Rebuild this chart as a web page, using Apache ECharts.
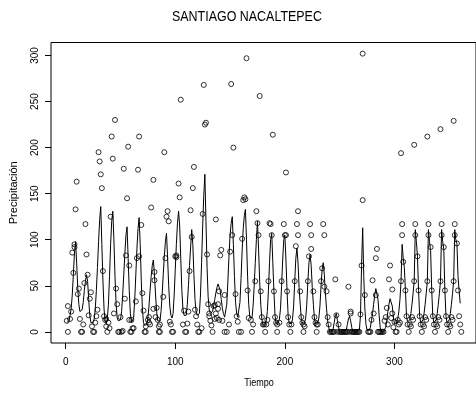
<!DOCTYPE html>
<html>
<head>
<meta charset="utf-8">
<script src="https://cdn.jsdelivr.net/npm/echarts@6/dist/echarts.min.js"></script>
<style>
html,body{margin:0;padding:0;background:#fff;}
#chart{width:476px;height:394px;}
</style>
</head>
<body>
<div id="chart"></div>
<script>
const titleText = 'SANTIAGO NACALTEPEC';
const xLabel = 'Tiempo';
const yLabel = 'Precipitación';
const xTicks = [0, 100, 200, 300];
const yTicks = [0, 50, 100, 150, 200, 250, 300];

// fitted monthly series (t = 1..360)
const fittedValues = [
  10, 8, 12, 18, 25, 40, 62, 85, 98, 75, 48, 30,
  22, 20, 24, 32, 45, 55, 62, 55, 35, 18, 10, 9,
  10, 14, 25, 45, 70, 98, 122, 136, 95, 55, 25, 12,
  9, 14, 30, 60, 95, 120, 131, 100, 60, 30, 15, 12,
  11, 13, 22, 40, 62, 85, 105, 114, 80, 45, 20, 10,
  8, 15, 35, 62, 90, 112, 124, 95, 55, 25, 10, 7,
  6, 8, 15, 28, 45, 60, 72, 78, 62, 40, 22, 12,
  10, 12, 22, 40, 62, 82, 98, 107, 80, 50, 28, 18,
  15, 20, 40, 68, 95, 118, 131, 115, 80, 45, 25, 18,
  16, 18, 30, 50, 72, 92, 111, 95, 62, 35, 22, 18,
  16, 20, 40, 75, 115, 148, 171, 120, 70, 38, 24, 20,
  18, 22, 28, 35, 42, 48, 52, 53, 45, 35, 25, 20,
  16, 18, 30, 55, 82, 105, 118, 125, 95, 60, 32, 20,
  16, 18, 32, 58, 88, 112, 126, 133, 100, 60, 30, 16,
  14, 15, 28, 50, 75, 100, 120, 90, 55, 30, 14, 7,
  6, 8, 12, 22, 45, 75, 100, 107, 75, 44, 18, 9,
  8, 10, 14, 25, 50, 78, 100, 105, 78, 44, 17, 9,
  8, 9, 14, 28, 55, 80, 91, 75, 48, 30, 14, 9,
  8, 10, 15, 30, 55, 75, 84, 72, 48, 30, 14, 9,
  8, 10, 15, 28, 50, 68, 75, 62, 42, 25, 12, 5,
  0, 0, 0, 3, 10, 17, 20, 12, 5, 0, 0, 0,
  0, 0, 0, 2, 8, 14, 17, 12, 5, 0, 0, 0,
  0, 0, 0, 2, 18, 72, 113, 60, 25, 8, 2, 2,
  2, 5, 12, 20, 30, 40, 47, 49, 35, 18, 5, 0,
  0, 0, 0, 5, 12, 22, 30, 36, 37, 28, 16, 9,
  9, 10, 14, 22, 35, 55, 95, 80, 70, 45, 17, 11,
  11, 13, 20, 30, 42, 55, 111, 98, 82, 45, 17, 10,
  11, 13, 20, 30, 42, 55, 111, 98, 88, 45, 17, 10,
  11, 13, 20, 30, 42, 55, 111, 98, 90, 45, 17, 10,
  11, 13, 20, 30, 42, 55, 111, 100, 96, 60, 45, 31
];

// observed points [time, precipitation]
const observedPoints = [
  [1,12],[2,0],[2,28],[4,14],[5,22],[6,86],[7,64],[8,92],[8,95],[9,133],[10,163],[11,41],[12,47],
  [13,14],[14,0],[15,0],[16,8],[17,53],[18,117],[19,84],[20,62],[21,18],[22,36],[23,43],[24,6],
  [25,0],[26,0],[27,10],[28,17],[29,24],[30,195],[31,185],[32,171],[33,156],[34,66],[35,17],[36,13],
  [37,6],[37,14],[38,0],[39,10],[40,4],[41,125],[42,212],[43,188],[44,20],[45,230],[46,47],[47,30],[48,0],
  [49,0],[50,16],[51,0],[52,1],[53,177],[54,36],[55,83],[56,145],[57,201],[58,72],[58,13],[59,0],[60,13],[60,0],
  [61,4],[62,4],[64,33],[65,80],[66,176],[67,82],[67,212],[69,116],[70,42],[71,23],[72,0],
  [73,0],[73,6],[75,13],[76,10],[76,16],[77,8],[78,135],[80,25],[80,165],[81,65],[81,56],[82,16],[83,26],[84,13],
  [85,6],[85,0],[86,8],[86,0],[89,38],[90,195],[91,80],[92,125],[93,131],[94,120],[95,11],[96,8],
  [97,0],[98,0],[100,82],[101,83],[101,81],[103,161],[104,146],[105,252],[107,8],[108,23],
  [109,0],[110,0],[111,9],[112,22],[113,66],[114,132],[115,103],[116,156],[117,179],[118,24],[119,17],[120,8],
  [121,0],[122,0],[124,4],[125,128],[126,268],[127,225],[128,227],[129,84],[130,30],[131,17],[131,20],[132,12],
  [133,7],[134,0],[135,28],[136,29],[136,14],[137,122],[137,20],[138,15],[139,30],[139,25],[140,44],[140,13],[141,83],[142,89],[143,12],
  [145,40],[145,0],[147,0],[149,8],[150,87],[151,269],[152,105],[153,200],[155,41],[156,17],
  [157,11],[158,0],[160,0],[161,101],[162,143],[163,146],[164,144],[165,297],[166,45],[167,15],
  [169,13],[170,0],[171,8],[173,55],[174,131],[175,118],[176,105],[177,256],[178,44],[179,16],[180,8],
  [181,8],[182,0],[183,8],[184,13],[185,55],[186,118],[187,117],[188,105],[189,214],[190,44],[191,16],[192,10],
  [193,8],[193,0],[195,10],[197,55],[199,117],[200,105],[201,105],[201,173],[202,44],[203,16],[204,8],
  [205,0],[206,8],[209,55],[210,93],[211,117],[212,105],[212,131],[214,44],[215,16],[216,10],
  [217,8],[217,0],[218,6],[221,55],[222,82],[223,117],[224,105],[224,90],[226,44],[227,16],[228,10],
  [229,8],[229,0],[230,8],[233,55],[234,69],[235,117],[236,105],[236,49],[238,44],[239,16],[240,8],
  [241,0],[242,0],[243,0],[244,0],[245,0],[246,57],[247,18],[248,0],[249,8],[250,0],[251,0],[252,0],
  [253,0],[254,0],[255,0],[256,0],[257,0],[258,49],[259,0],[260,22],[260,20],[261,0],[262,0],[263,0],[264,0],
  [265,0],[266,0],[267,0],[268,0],[269,19],[270,72],[271,143],[271,302],[273,40],[276,0],
  [277,0],[278,0],[279,13],[280,56],[281,20],[283,40],[283,80],[284,90],[285,0],[286,0],[287,0],[288,0],
  [289,0],[290,0],[291,12],[292,16],[293,26],[294,8],[295,57],[296,72],[297,15],[298,46],[298,20],[299,5],[300,11],
  [301,0],[302,0],[303,13],[304,8],[305,10],[306,55],[306,194],[307,117],[307,105],[308,76],[310,45],[311,17],[312,8],
  [313,0],[314,8],[315,6],[316,16],[317,13],[318,55],[318,203],[319,117],[319,105],[321,82],[322,45],[323,17],[324,8],
  [325,0],[326,8],[327,6],[328,16],[329,13],[330,55],[330,212],[331,117],[331,105],[333,92],[334,45],[335,17],[336,8],
  [337,0],[338,8],[339,6],[340,16],[341,13],[342,55],[342,220],[343,117],[343,105],[345,92],[346,45],[347,17],[348,8],
  [349,0],[350,8],[351,6],[352,16],[353,13],[354,55],[354,229],[355,117],[355,105],[357,96],[358,45],[359,17],[360,8],[361,0]
];

const lineData = fittedValues.map((v, i) => [i + 1, v]);

const chart = echarts.init(document.getElementById('chart'), null, {renderer: 'canvas'});
const sans = '"Liberation Sans", Arial, Helvetica, sans-serif';

chart.setOption({
  backgroundColor: '#ffffff',
  animation: false,
  graphic: [
    {
      type: 'text', x: 172, y: 9, scaleX: 0.83, silent: true,
      style: {text: titleText, font: '15px "Liberation Sans", Arial, sans-serif', fill: '#000', textAlign: 'left', textVerticalAlign: 'top'}
    },
    {
      type: 'text', x: 259, y: 377, scaleX: 0.82, silent: true,
      style: {text: xLabel, font: '11px "Liberation Sans", Arial, sans-serif', fill: '#000', textAlign: 'center', textVerticalAlign: 'top'}
    }
  ],
  grid: {
    left: 47.5, top: 42.5, width: 429.5, height: 300.5,
    show: true, borderColor: '#000', borderWidth: 1, backgroundColor: 'transparent'
  },
  xAxis: {
    type: 'value',
    min: -13.4, max: 374.4,
    axisLine: {show: false, onZero: false},
    splitLine: {show: false},
    axisTick: {show: true, customValues: xTicks, length: 6, lineStyle: {color: '#000'}},
    axisLabel: {customValues: xTicks, fontFamily: sans, fontSize: 10, color: '#000', margin: 14}
  },
  yAxis: {
    type: 'value',
    min: -12.08, max: 314.08,
    name: yLabel,
    nameLocation: 'middle',
    nameRotate: 90,
    nameGap: 32,
    nameTextStyle: {fontFamily: sans, fontSize: 11, color: '#000'},
    axisLine: {show: false, onZero: false},
    splitLine: {show: false},
    axisTick: {show: true, customValues: yTicks, length: 6, lineStyle: {color: '#000'}},
    axisLabel: {customValues: yTicks, rotate: 90, fontFamily: sans, fontSize: 10, color: '#000', margin: 11}
  },
  series: [
    {
      type: 'line',
      data: lineData,
      showSymbol: false,
      symbol: 'none',
      lineStyle: {color: '#000', width: 1},
      z: 2
    },
    {
      type: 'scatter',
      data: observedPoints,
      symbol: 'circle',
      symbolSize: 5,
      itemStyle: {color: 'rgba(0,0,0,0)', borderColor: '#000', borderWidth: 1},
      z: 3
    }
  ]
});
</script>
</body>
</html>
